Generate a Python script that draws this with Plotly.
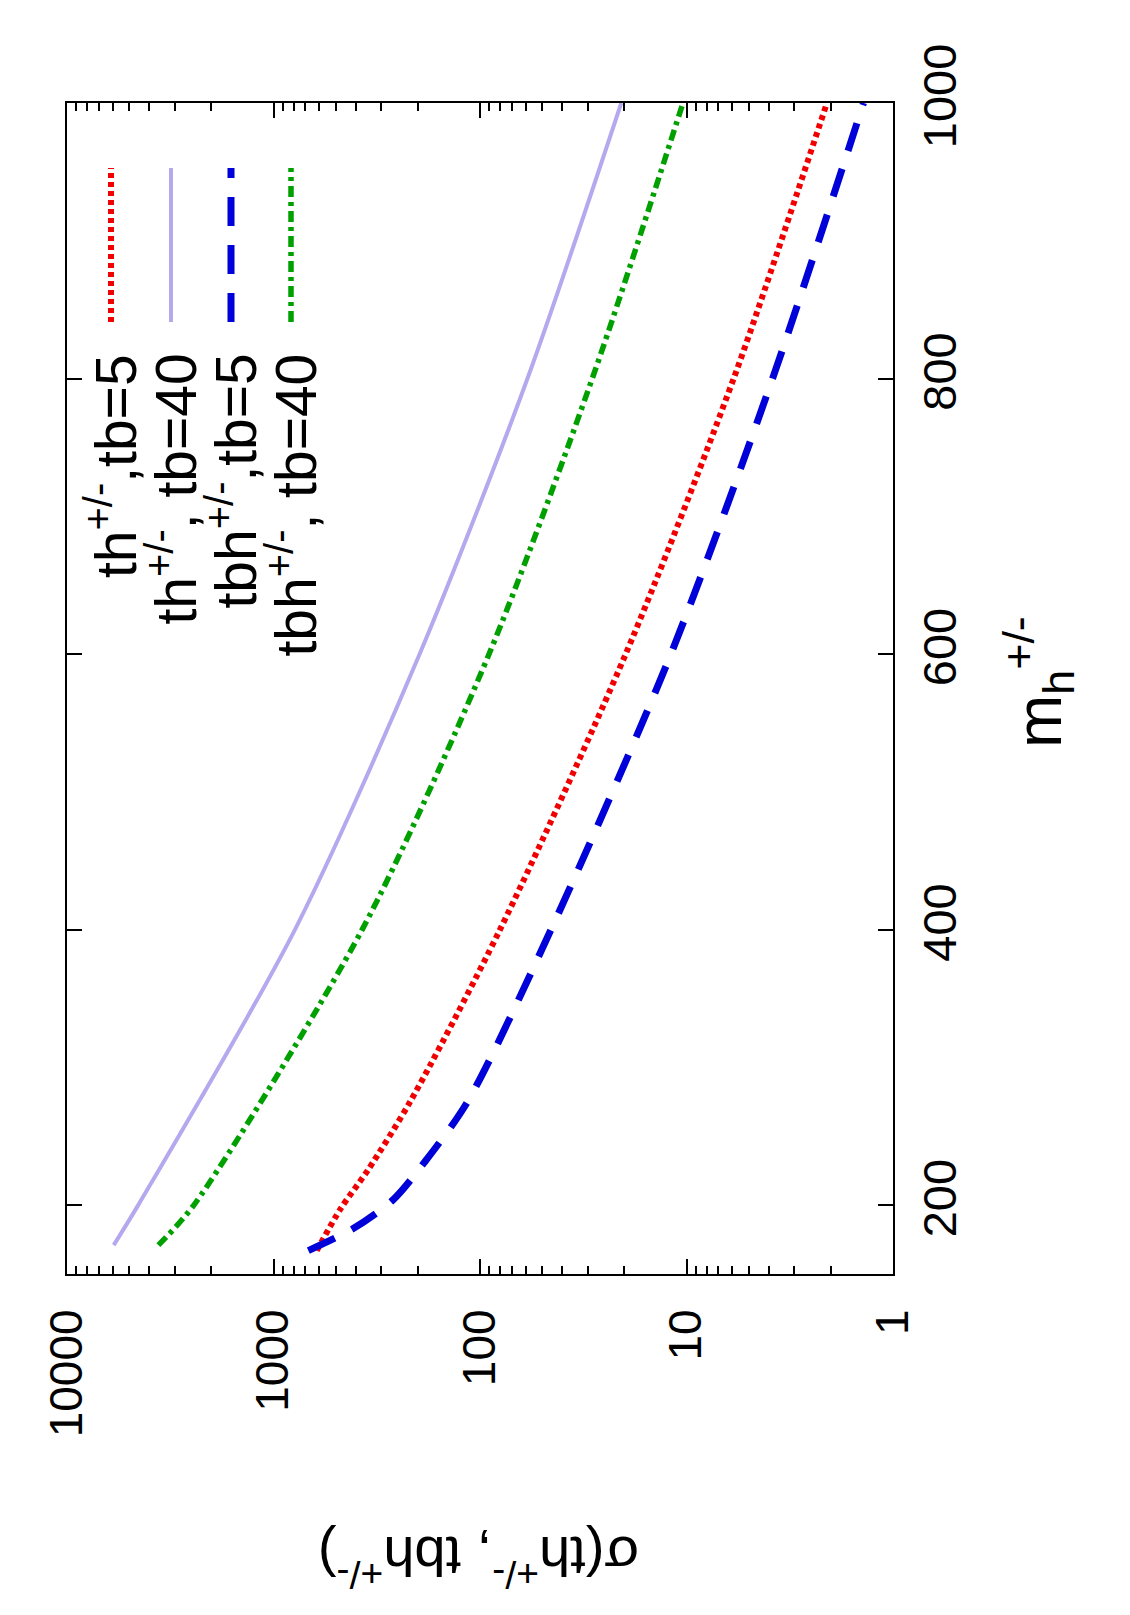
import plotly.graph_objects as go

# ---- data ----
m_th40 = [171, 200, 400, 600, 800, 1000]
s_th40 = [5940, 4520, 787, 196, 58.9, 20.7]

m_tbh40 = [171, 200, 400, 600, 800, 1000]
s_tbh40 = [3610, 2430, 372, 90.4, 28.6, 10.4]

m_th5 = [167, 197, 226, 275, 400, 600, 800, 1000]
s_th5 = [617, 475, 347, 218, 80.0, 19.7, 5.91, 2.09]

m_tbh5 = [167, 183, 204, 231, 275, 400, 600, 800, 1000]
s_tbh5 = [678, 411, 263, 186, 115, 45.3, 11.9, 3.83, 1.39]

sigma_ticks = [1, 10, 100, 1000, 10000]
sigma_ticktext = ["1", "10", "100", "1000", "10000"]
mass_ticks = [200, 400, 600, 800, 1000]

legend_labels = ["th<sup>+/-</sup>,tb=5", "th<sup>+/-</sup>, tb=40",
                 "tbh<sup>+/-</sup>,tb=5", "tbh<sup>+/-</sup>, tb=40"]

RED = "#f00000"
LAV = "#b6a8ee"
BLUE = "#0000d8"
GREEN = "#00a000"

styles = [
    dict(color=RED, width=6, dash="5px,4px"),
    dict(color=LAV, width=4, dash="solid"),
    dict(color=BLUE, width=7, dash="29px,19px"),
    dict(color=GREEN, width=5.5, dash="11px,5px,4px,5px"),
]

W, H = 1130, 1615
L, R, T, B = 67, 237, 103, 341
PW, PH = W - L - R, H - T - B

fig = go.Figure()
series = [(m_th5, s_th5), (m_th40, s_th40), (m_tbh5, s_tbh5), (m_tbh40, s_tbh40)]
for (mm, ss), st, lab in zip(series, styles, legend_labels):
    fig.add_trace(go.Scatter(x=ss, y=mm, mode="lines", line=dict(shape="spline", smoothing=0.8, **st),
                             name=lab, showlegend=False))

FONT = "Liberation Sans, Arial, Helvetica, sans-serif"

minor_vals = [k * 10 ** e for e in range(0, 4) for k in range(2, 10)]

fig.update_layout(
    width=W, height=H,
    margin=dict(l=L, r=R, t=T, b=B, pad=0),
    paper_bgcolor="white", plot_bgcolor="white",
    font=dict(family=FONT, color="black"),
    xaxis=dict(
        type="log", range=[4, 0], autorange=False,
        tickmode="array", tickvals=sigma_ticks, ticktext=sigma_ticktext,
        tickangle=-90, tickfont=dict(size=46, family=FONT),
        ticks="inside", ticklen=15, tickwidth=1.5, tickcolor="black",
        showline=True, linecolor="black", linewidth=2, mirror="allticks",
        showgrid=False, zeroline=False, ticklabelstandoff=15,
        minor=dict(tickmode="array", tickvals=minor_vals, ticks="inside", ticklen=8,
                   tickwidth=1.5, tickcolor="black", showgrid=False),
    ),
    yaxis=dict(
        range=[150, 1000], autorange=False, side="right",
        tickmode="array", tickvals=mass_ticks,
        tickangle=-90, tickfont=dict(size=47, family=FONT),
        ticks="inside", ticklen=15, tickwidth=1.5, tickcolor="black",
        showline=True, linecolor="black", linewidth=2, mirror="allticks",
        showgrid=False, zeroline=False, ticklabelstandoff=5,
    ),
)

def px2paper_x(px):
    return (px - L) / PW

def px2paper_y(py):
    return (T + PH - py) / PH

# legend (rotated like the rest of the figure)
sample_x = [111, 171, 231, 291]
for xs, st, lab in zip(sample_x, styles, legend_labels):
    fig.add_shape(type="line", xref="paper", yref="paper",
                  x0=px2paper_x(xs), x1=px2paper_x(xs),
                  y0=px2paper_y(322), y1=px2paper_y(168),
                  line=dict(color=st["color"], width=st["width"], dash=st["dash"]))
    fig.add_annotation(xref="paper", yref="paper", x=px2paper_x(xs + 1), y=px2paper_y(352),
                       xanchor="center", yanchor="top", text=lab, textangle=-90,
                       showarrow=False, font=dict(size=57, family=FONT, color="black"))

# axis titles
fig.add_annotation(xref="paper", yref="paper", x=px2paper_x(1038), y=px2paper_y(682),
                   text="m<sub>h</sub><sup>+/-</sup>", textangle=-90, showarrow=False,
                   xanchor="center", yanchor="middle",
                   font=dict(size=64, family=FONT, color="black"))
fig.add_annotation(xref="paper", yref="paper", x=px2paper_x(479), y=px2paper_y(1561),
                   text="σ(th<sup>+/-</sup>, tbh<sup>+/-</sup>)", textangle=180, showarrow=False,
                   xanchor="center", yanchor="middle",
                   font=dict(size=56, family=FONT, color="black"))

fig.write_html("out.html")
